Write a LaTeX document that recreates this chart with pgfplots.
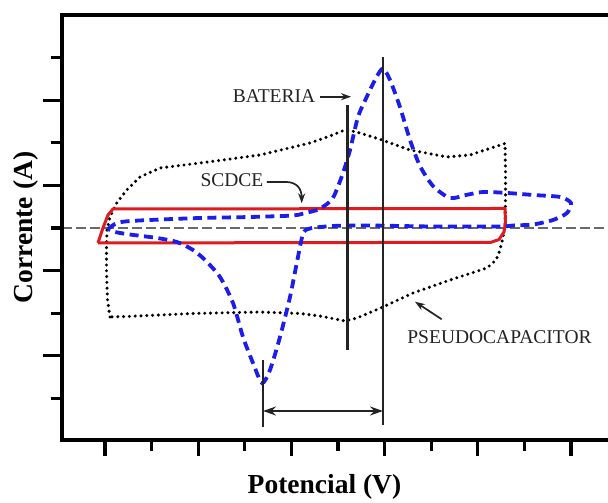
\documentclass[border=0pt]{standalone}
\usepackage{fontspec}
\setmainfont{Liberation Serif}
\usepackage{pgfplots}
\pgfplotsset{compat=1.18}
\usetikzlibrary{arrows.meta}

\definecolor{cvred}{RGB}{222,28,32}
\definecolor{cvblue}{RGB}{28,28,235}
\definecolor{zerogray}{RGB}{105,105,105}
\definecolor{annot}{RGB}{35,35,35}

\begin{document}
\begin{tikzpicture}
\path (0,0) rectangle (608pt,501pt);
\begin{axis}[
  name=ax,
  at={(61.7pt,61pt)}, anchor=south west,
  scale only axis, width=546.3pt, height=425pt,
  xmin=-0.929, xmax=10.794, ymin=-4.977, ymax=5.0,
  axis x line*=bottom, axis y line*=left,
  axis line style={draw=none},
  tick align=outside,
  xtick={0,2,4,6,8,10}, minor xtick={1,3,5,7,9},
  ytick={-3,-1,1,3}, minor ytick={-4,-2,0,2,4},
  xticklabels={}, yticklabels={},
  tick style={line width=3.2pt, black},
  xtick style={/pgfplots/major tick length=16pt,/pgfplots/minor tick length=11pt},
  ytick style={/pgfplots/major tick length=18.7pt,/pgfplots/minor tick length=11pt},
  xlabel={Potencial (V)}, ylabel={Corrente (A)},
  label style={font=\fontsize{27.5}{30}\selectfont\bfseries},
  xlabel style={at={(axis description cs:0.481,-0.1106)}, anchor=center},
  ylabel style={at={(axis description cs:-0.0654,0.5)}, anchor=center},
]

% zero-current reference line
\addplot[zerogray, line width=1.6pt, dash pattern=on 10pt off 4pt] coordinates {(-0.929,0) (10.794,0)};

% pseudocapacitor voltammogram (dotted)
\addplot[black, line width=3.4pt, line cap=round, dash pattern=on 0pt off 5.8pt] coordinates {
(0.107,-2.089) (0.054,-1.690) (0.032,-0.986) (0.032,-0.399) (0.043,-0.047)
(0.107,0.258) (0.251,0.587) (0.466,0.892) (0.751,1.197) (1.180,1.408)
(2.253,1.556) (3.326,1.714) (4.399,1.995) (4.828,2.160) (5.172,2.312)
(5.472,2.230) (5.944,2.066) (6.545,1.831) (7.339,1.667) (7.833,1.714)
(8.155,1.831) (8.584,1.984) (8.594,1.362) (8.594,0.657) (8.584,0.023)
(8.541,-0.211) (8.476,-0.516) (8.391,-0.751) (8.197,-0.939) (7.403,-1.221)
(6.609,-1.526) (5.966,-1.854) (5.408,-2.113) (5.150,-2.183) (4.614,-2.066)
(4.185,-2.007) (3.326,-1.972) (1.888,-2.007) (0.472,-2.077) (0.107,-2.089)
};

% double-layer capacitor (SCDCE), solid red
\addplot[cvred, line width=3pt, line join=round] coordinates {
(-0.150,-0.352) (-0.043,0.000) (0.064,0.305) (0.172,0.446)
(8.584,0.458) (8.594,0.141) (8.562,-0.094) (8.455,-0.270) (8.283,-0.336)
(-0.150,-0.352)
};

% battery-type electrode, blue dashed
\addplot[cvblue, line width=3.8pt, dash pattern=on 9pt off 5.5pt, smooth, tension=0.45] coordinates {
(0.064,-0.023) (0.215,0.094) (0.429,0.153) (0.966,0.188) (2.039,0.235)
(3.112,0.258) (4.034,0.293) (4.292,0.352) (4.549,0.423) (4.764,0.563)
(4.914,0.751) (5.107,1.291) (5.258,1.831) (5.429,2.606) (5.616,3.075)
(5.815,3.521) (5.966,3.744) (6.116,3.474) (6.330,2.840) (6.545,2.066)
(6.760,1.455) (7.039,0.986) (7.403,0.704) (7.747,0.775) (8.112,0.845)
(8.627,0.822) (9.185,0.775) (9.764,0.728) (10.000,0.587) (9.914,0.352)
(9.614,0.188) (9.185,0.082) (8.755,0.059) (8.476,0.035) (7.039,0.035)
(5.622,0.059) (4.893,0.047) (4.399,-0.012) (4.249,-0.141) (4.120,-0.798)
(3.970,-1.620) (3.755,-2.559) (3.541,-3.333) (3.369,-3.638) (3.176,-3.169)
(2.961,-2.559) (2.747,-1.761) (2.468,-1.150) (2.146,-0.751) (1.888,-0.516)
(1.545,-0.329) (1.116,-0.235) (0.536,-0.153) (0.215,-0.094) (0.064,-0.023)
};

% peak-position markers
\addplot[annot, line width=2.2pt] coordinates {(3.391,-3.099) (3.391,-4.671)};
\addplot[annot, line width=2.2pt] coordinates {(5.204,2.887) (5.204,-2.864)};
\addplot[annot, line width=2.2pt] coordinates {(5.966,4.021) (5.966,-4.624)};

% peak separation
\draw[annot, line width=2pt, {Stealth[length=13pt,width=9pt]}-{Stealth[length=13pt,width=9pt]}]
  (axis cs:3.391,-4.296) -- (axis cs:5.966,-4.296);

% curve annotations
\node[annot, font=\fontsize{19.5}{22}\selectfont, anchor=center] at (axis cs:3.627,3.099) {BATERIA};
\draw[annot, line width=1.7pt, -{Stealth[length=10pt,width=7pt]}] (axis cs:4.614,3.082) -- (axis cs:5.281,3.082);

\node[annot, font=\fontsize{19.5}{22}\selectfont, anchor=center] at (axis cs:2.725,1.115) {SCDCE};
\draw[annot, line width=1.7pt, -{Stealth[length=10pt,width=7pt]}]
  (axis cs:3.476,1.080) -- (axis cs:3.90,1.080) .. controls (axis cs:4.12,1.07) and (axis cs:4.22,0.92) .. (axis cs:4.221,0.580);

\node[annot, font=\fontsize{19.5}{22}\selectfont, anchor=center] at (axis cs:8.466,-2.552) {PSEUDOCAPACITOR};
\draw[annot, line width=1.7pt, -{Stealth[length=10pt,width=7pt]}] (axis cs:7.225,-2.143) -- (axis cs:6.652,-1.730);
\end{axis}
% open frame: top, left and bottom spines
\draw[overlay, black, line width=3.8pt, line join=miter]
  (ax.north east) -- (ax.north west) -- (ax.south west) -- (ax.south east);
\end{tikzpicture}
\end{document}
